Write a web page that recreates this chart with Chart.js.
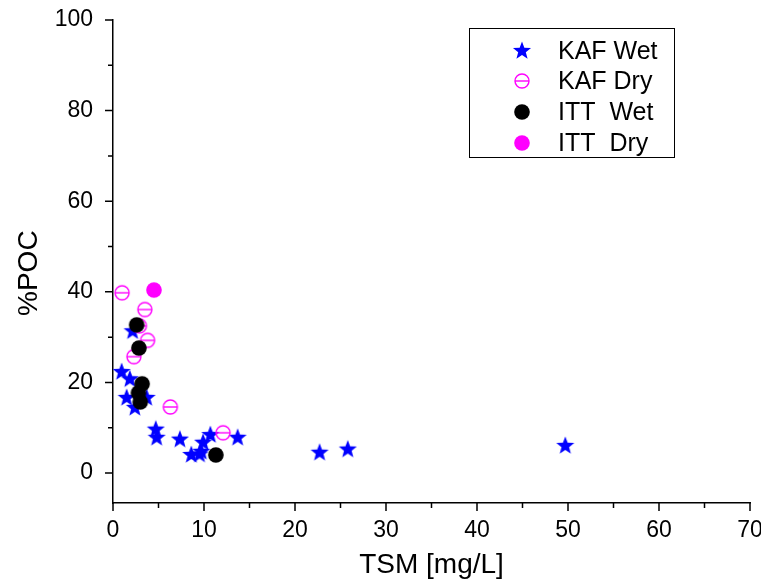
<!DOCTYPE html>
<html lang="en">
<head>
    <meta charset="UTF-8">
    <title>%POC vs TSM</title>
    <script src="https://cdn.jsdelivr.net/npm/chart.js@4.4.1/dist/chart.umd.min.js"></script>
    <style>
        body {
            margin: 0;
            padding: 0;
            background-color: #ffffff;
        }
        #chart {
            display: block;
        }
    </style>
</head>
<body>
    <canvas id="chart" width="761" height="582"></canvas>

    <script>
        // Data (TSM in mg/L, %POC)
        const kafWetX = [2.15, 0.95, 1.85, 1.5, 3.7, 2.4, 4.7, 4.8, 7.35, 8.6, 9.5, 9.7, 9.9, 10.7, 13.7, 22.7, 25.8, 49.7];
        const kafWetY = [31.3, 22.3, 20.7, 16.6, 16.6, 14.4, 9.6, 7.8, 7.4, 4.0, 4.1, 4.7, 6.7, 8.4, 7.8, 4.5, 5.2, 6.0];

        const kafDryX = [1.0, 3.5, 2.9, 3.8, 2.3, 6.3, 12.1];
        const kafDryY = [39.8, 36.1, 32.5, 29.3, 25.7, 14.6, 8.9];

        const ittWetX = [2.6, 2.85, 3.2, 2.8, 3.0, 11.3];
        const ittWetY = [32.7, 27.6, 19.7, 17.7, 15.7, 4.0];

        const ittDryX = [4.5];
        const ittDryY = [40.4];

        const seriesNames = ['KAF Wet', 'KAF Dry', 'ITT  Wet', 'ITT  Dry'];
        const xMajorTicks = [0, 10, 20, 30, 40, 50, 60, 70];
        const yMajorTicks = [0, 20, 40, 60, 80, 100];

        function toPoints(xs, ys) {
            return xs.map((x, i) => ({ x: x, y: ys[i] }));
        }

        // Marker images
        function makeMarker(draw) {
            const c = document.createElement('canvas');
            c.width = 22;
            c.height = 22;
            draw(c.getContext('2d'), 11, 11);
            return c;
        }

        const starMarker = makeMarker((ctx, cx, cy) => {
            const outer = 9.5, inner = 4;
            ctx.beginPath();
            for (let i = 0; i < 10; i++) {
                const r = i % 2 === 0 ? outer : inner;
                const a = -Math.PI / 2 + i * Math.PI / 5;
                ctx.lineTo(cx + r * Math.cos(a), cy + r * Math.sin(a));
            }
            ctx.closePath();
            ctx.fillStyle = '#0000ff';
            ctx.fill();
        });

        const openMarker = makeMarker((ctx, cx, cy) => {
            ctx.strokeStyle = '#ff00ff';
            ctx.lineWidth = 1.4;
            ctx.beginPath();
            ctx.arc(cx, cy, 7, 0, Math.PI * 2);
            ctx.stroke();
            ctx.beginPath();
            ctx.moveTo(cx - 7, cy);
            ctx.lineTo(cx + 7, cy);
            ctx.stroke();
        });

        function dotMarker(color) {
            return makeMarker((ctx, cx, cy) => {
                ctx.fillStyle = color;
                ctx.beginPath();
                ctx.arc(cx, cy, 7.8, 0, Math.PI * 2);
                ctx.fill();
            });
        }
        const blackMarker = dotMarker('#000000');
        const pinkMarker = dotMarker('#ff00ff');

        const markers = [starMarker, openMarker, blackMarker, pinkMarker];

        // Outward tick marks, long at labels, short in between
        const tickPlugin = {
            id: 'ticks',
            afterDraw(chart) {
                const ctx = chart.ctx;
                const xs = chart.scales.x;
                const ys = chart.scales.y;
                const area = chart.chartArea;
                ctx.save();
                ctx.strokeStyle = '#000';
                ctx.lineWidth = 1.5;
                ctx.beginPath();
                for (let v = 0; v <= 70; v += 5) {
                    const px = xs.getPixelForValue(v);
                    const len = v % 10 === 0 ? 8 : 5;
                    ctx.moveTo(px, area.bottom);
                    ctx.lineTo(px, area.bottom + len);
                }
                for (let v = 0; v <= 100; v += 10) {
                    const py = ys.getPixelForValue(v);
                    const len = v % 20 === 0 ? 8 : 5;
                    ctx.moveTo(area.left, py);
                    ctx.lineTo(area.left - len, py);
                }
                ctx.stroke();
                ctx.restore();
            }
        };

        // Boxed legend inside the plot, top right
        const legendPlugin = {
            id: 'boxLegend',
            afterDraw(chart) {
                const ctx = chart.ctx;
                ctx.save();
                ctx.strokeStyle = '#000';
                ctx.lineWidth = 1;
                ctx.strokeRect(469.5, 28.5, 205, 129);
                ctx.font = '25px "Liberation Sans", Arial, sans-serif';
                ctx.fillStyle = '#000';
                ctx.textBaseline = 'middle';
                const rows = [51, 81, 112, 143];
                seriesNames.forEach((name, i) => {
                    ctx.drawImage(markers[i], 522 - 11, rows[i] - 11);
                    ctx.fillText(name, 558, rows[i] + 1);
                });
                ctx.restore();
            }
        };

        const tickFont = { family: '"Liberation Sans", Arial, sans-serif', size: 23 };
        const titleFont = { family: '"Liberation Sans", Arial, sans-serif', size: 28 };

        new Chart(document.getElementById('chart'), {
            type: 'scatter',
            data: {
                datasets: [
                    { label: seriesNames[0], data: toPoints(kafWetX, kafWetY), pointStyle: starMarker, order: 4 },
                    { label: seriesNames[1], data: toPoints(kafDryX, kafDryY), pointStyle: openMarker, order: 3 },
                    { label: seriesNames[2], data: toPoints(ittWetX, ittWetY), pointStyle: blackMarker, order: 2 },
                    { label: seriesNames[3], data: toPoints(ittDryX, ittDryY), pointStyle: pinkMarker, order: 1 }
                ]
            },
            options: {
                responsive: false,
                animation: false,
                devicePixelRatio: 1,
                layout: { padding: { top: 20, right: 11, left: 0, bottom: 0 } },
                plugins: {
                    legend: { display: false },
                    tooltip: { enabled: false }
                },
                scales: {
                    x: {
                        type: 'linear',
                        min: 0,
                        max: 70,
                        afterBuildTicks: (scale) => {
                            scale.ticks = xMajorTicks.map(v => ({ value: v }));
                        },
                        afterFit: (scale) => {
                            scale.height = 79;
                            scale.paddingLeft = 0;
                            scale.paddingRight = 0;
                        },
                        grid: { display: false },
                        border: { display: true, color: '#000', width: 1.5 },
                        ticks: { color: '#000', font: tickFont, padding: 6, maxRotation: 0 },
                        title: {
                            display: true,
                            text: 'TSM [mg/L]',
                            color: '#000',
                            font: titleFont,
                            padding: { top: 0, bottom: 0 }
                        }
                    },
                    y: {
                        type: 'linear',
                        min: -6.6,
                        max: 100,
                        afterBuildTicks: (scale) => {
                            scale.ticks = yMajorTicks.map(v => ({ value: v }));
                        },
                        afterFit: (scale) => {
                            scale.width = 113;
                            scale.paddingTop = 0;
                            scale.paddingBottom = 0;
                        },
                        grid: { display: false },
                        border: { display: true, color: '#000', width: 1.5 },
                        ticks: { color: '#000', font: tickFont, padding: 12 },
                        title: {
                            display: true,
                            text: '%POC   ',
                            color: '#000',
                            font: titleFont,
                            padding: { top: 12, bottom: 0 }
                        }
                    }
                }
            },
            plugins: [tickPlugin, legendPlugin]
        });
    </script>
</body>
</html>
